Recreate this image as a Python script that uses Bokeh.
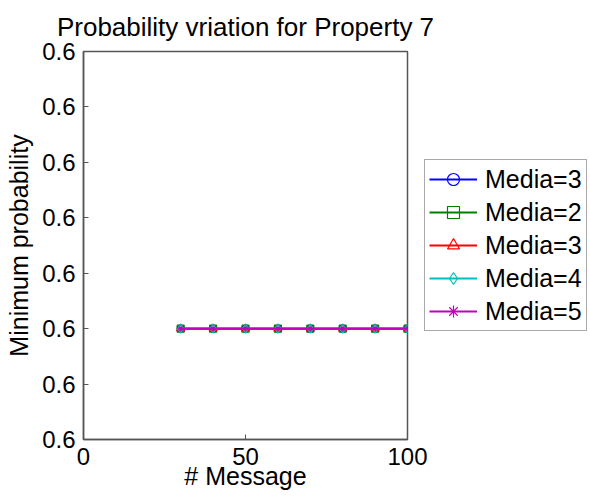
from bokeh.plotting import figure
from bokeh.models import Range1d, FixedTicker, PrintfTickFormatter, Legend, LegendItem
from bokeh.embed import file_html
from bokeh.resources import INLINE

# ---- data ----
messages = [30, 40, 50, 60, 70, 80, 90, 100]
media3_a = [0.6, 0.6, 0.6, 0.6, 0.6, 0.6, 0.6, 0.6]
media2 = [0.6, 0.6, 0.6, 0.6, 0.6, 0.6, 0.6, 0.6]
media3_b = [0.6, 0.6, 0.6, 0.6, 0.6, 0.6, 0.6, 0.6]
media4 = [0.6, 0.6, 0.6, 0.6, 0.6, 0.6, 0.6, 0.6]
media5 = [0.6, 0.6, 0.6, 0.6, 0.6, 0.6, 0.6, 0.6]
series_labels = ["Media=3", "Media=2", "Media=3", "Media=4", "Media=5"]
x_ticks = [0, 50, 100]
y_ticks = [0.5998, 0.5999, 0.6, 0.6001, 0.6002, 0.6003, 0.6004, 0.6005]

FONT = "Liberation Sans"
AX = "#555555"

p = figure(frame_width=324, frame_height=388, output_backend="svg", toolbar_location=None,
           x_range=Range1d(0, 100), y_range=Range1d(y_ticks[0], y_ticks[-1]),
           min_border_left=83, min_border_right=0, min_border_top=51, min_border_bottom=59)
p.title.text = "Probability vriation for Property 7"
p.title.text_font = FONT
p.title.text_font_size = "26px"
p.title.text_font_style = "normal"
p.title.text_color = "black"
p.title.align = "center"
p.title.offset = 0
p.title.standoff = 19
p.grid.visible = False
p.outline_line_color = AX
p.outline_line_width = 1.5
p.background_fill_color = "white"
p.border_fill_color = "white"

for ax in (p.xaxis[0], p.yaxis[0]):
    ax.axis_line_color = AX
    ax.axis_line_width = 1.5
    ax.major_tick_line_color = AX
    ax.major_tick_in = 5
    ax.major_tick_out = 0
    ax.minor_tick_line_color = None
    ax.major_label_text_font = FONT
    ax.major_label_text_font_size = "24px"
    ax.major_label_text_color = "black"
    ax.axis_label_text_font = FONT
    ax.axis_label_text_font_size = "25px"
    ax.axis_label_text_font_style = "normal"
    ax.axis_label_text_color = "black"
p.xaxis[0].ticker = FixedTicker(ticks=x_ticks)
p.yaxis[0].ticker = FixedTicker(ticks=y_ticks)
p.yaxis[0].formatter = PrintfTickFormatter(format="%.1f")
p.xaxis[0].axis_label = "# Message"
p.yaxis[0].axis_label = "Minimum probability"
p.xaxis[0].major_label_standoff = 8
p.xaxis[0].axis_label_standoff = -6
p.yaxis[0].major_label_standoff = 8
p.yaxis[0].axis_label_standoff = 6

specs = [
    (media3_a, "#0000ff", "circle", 7),
    (media2, "#008000", "square", 7),
    (media3_b, "#ff0000", "triangle", 8),
    (media4, "#00bfbf", "diamond", 9),
    (media5, "#bf00bf", "asterisk", 5),
]
items = []
for (ys, col, mk, sz), lab in zip(specs, series_labels):
    ln = p.line(messages, ys, line_color=col, line_width=2)
    sc = p.scatter(messages, ys, marker=mk, size=sz, line_color=col, line_width=1.2,
                   fill_alpha=0)
    items.append(LegendItem(label=lab, renderers=[ln, sc]))

legend = Legend(items=items, location="left")
legend.label_text_font = FONT
legend.label_text_font_size = "25px"
legend.label_text_color = "black"
legend.glyph_width = 48
legend.glyph_height = 30
legend.label_height = 30
legend.spacing = 3
legend.padding = 4
legend.margin = 17
legend.label_standoff = 8
legend.border_line_color = AX
legend.border_line_width = 1.5
legend.background_fill_color = "white"
legend.background_fill_alpha = 1
p.add_layout(legend, "right")

open("out.html", "w").write(file_html(p, INLINE))
